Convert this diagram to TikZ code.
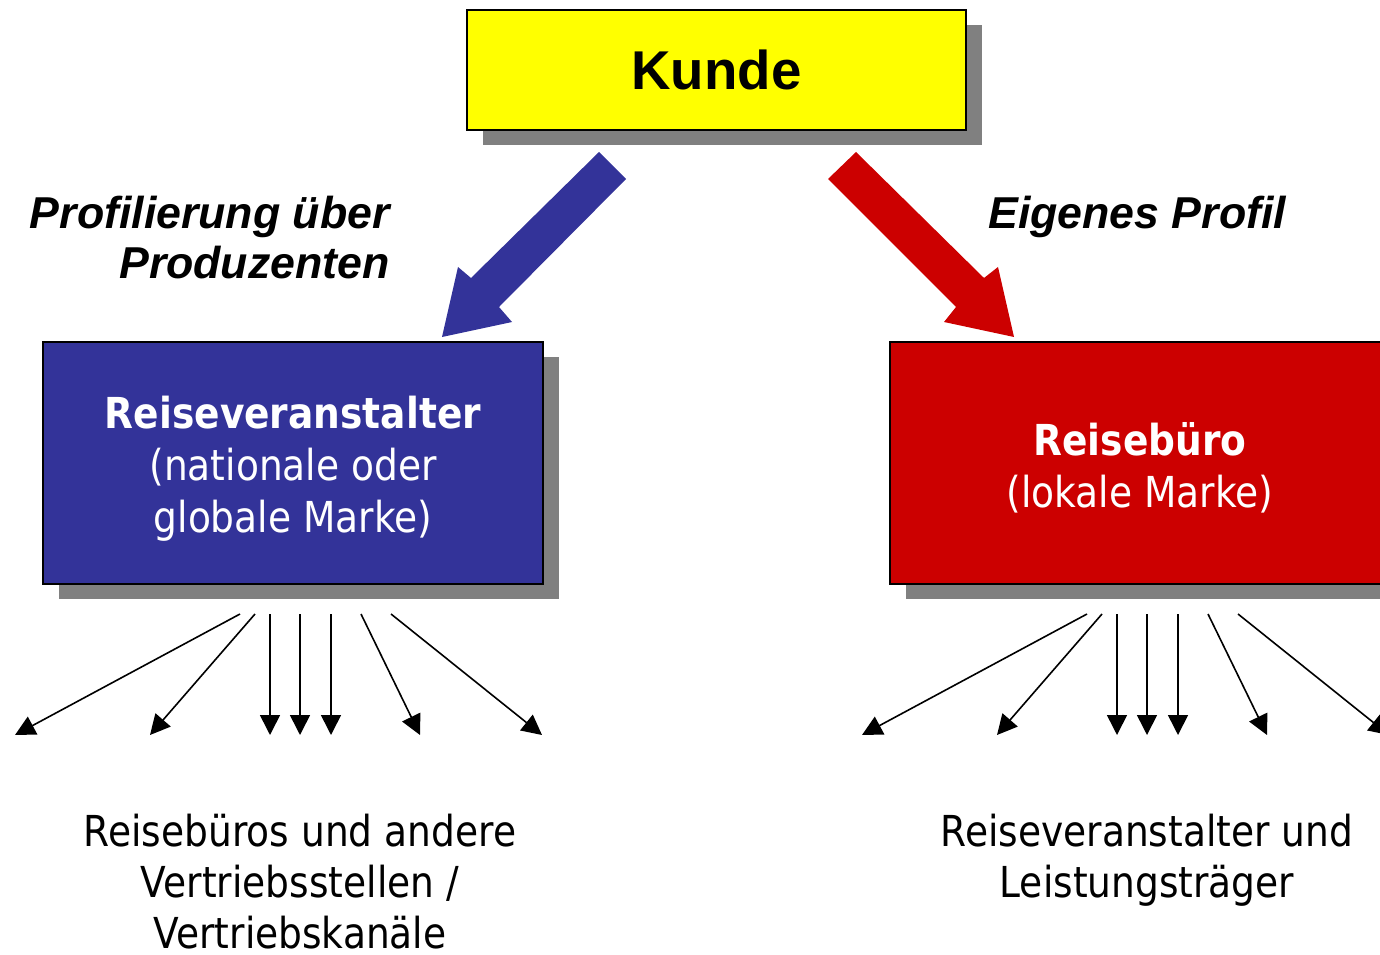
\documentclass[tikz,border=0pt]{standalone}
\usepackage{fontspec}
\setmainfont{DejaVu Sans}[FakeStretch=0.88]
\newfontfamily\arialfont{Liberation Sans}
\usepackage{tikz}
\usetikzlibrary{arrows.meta,positioning,shadows}

\definecolor{kundegelb}{HTML}{FFFF00}
\definecolor{veranstalterblau}{HTML}{333399}
\definecolor{bueroRot}{HTML}{CC0000}
\definecolor{schatten}{HTML}{808080}

\tikzset{
  schattig/.style={drop shadow={shadow xshift=12pt,shadow yshift=-11.25pt,fill=schatten,opacity=1}},
  kundebox/.style={draw=black,line width=1.5pt,fill=kundegelb,schattig,
    minimum width=374.25pt,minimum height=90pt,inner sep=0pt,
    font=\arialfont\bfseries\fontsize{41}{48}\selectfont},
  markebox/.style={draw=black,line width=1.5pt,schattig,
    minimum width=375pt,minimum height=181.5pt,inner sep=0pt},
  marketext/.style={inner sep=0pt,text=white,align=center,
    font=\fontsize{32}{39}\selectfont},
  profil/.style={inner sep=0pt,font=\arialfont\bfseries\itshape\fontsize{33.5}{37.5}\selectfont},
  kanal/.style={inner sep=0pt,align=center,font=\fontsize{32}{38.25}\selectfont},
  fan/.style={line width=1.2pt,-{Triangle[length=15pt,width=15pt]}}
}

\begin{document}
\begin{tikzpicture}[x=0.75pt,y=-0.75pt]
\useasboundingbox (0,0) rectangle (1380,955);
\clip (0,0) rectangle (1380,955);

% Boxes
\node[kundebox] (kunde) at (716.5,70) {Kunde};
\node[markebox,fill=veranstalterblau] (veranstalter) at (293,463) {};
\node[marketext] (veranstaltertext) at ([yshift=-4pt]veranstalter.center)
  {\textbf{Reiseveranstalter}\\(nationale oder\\globale Marke)};
\node[markebox,fill=bueroRot] (buero) at (1140,463) {};
\node[marketext] (buerotext) at ([yshift=-3.5pt]buero.center)
  {\textbf{Reisebüro}\\(lokale Marke)};

% Big arrows
\fill[veranstalterblau] (599,152) -- (626,179) -- (499,307) -- (512,322)
  -- (442,337) -- (458,267) -- (471,278) -- cycle;
\fill[bueroRot] (856,152) -- (828,179) -- (956,307) -- (944,322)
  -- (1014,337) -- (998,267) -- (984,278) -- cycle;

% Labels
\node[profil,anchor=north east,align=right] (produzenten) at (390,196)
  {Profilierung über\\Produzenten};
\node[profil,anchor=north west] (eigenprofil) at (988,196) {Eigenes Profil};

% Fan arrows
\foreach \s/\e [count=\i] in {240/15,255/150,270/270,300/300,331/331,361/420,391/542} {
  \coordinate (vs\i) at (\s,614);
  \coordinate (ve\i) at (\e,735);
  \draw[fan] (vs\i) -- (ve\i);
}
\foreach \s/\e [count=\i] in {1087/862,1102/997,1117/1117,1147/1147,1178/1178,1208/1267,1238/1389} {
  \coordinate (bs\i) at (\s,614);
  \coordinate (be\i) at (\e,735);
  \draw[fan] (bs\i) -- (be\i);
}

% Bottom texts
\node[kanal,anchor=north] (vertrieb) at (300,814)
  {Reisebüros und andere\\Vertriebsstellen /\\Vertriebskanäle};
\node[kanal,anchor=north] (leistung) at (1147,814)
  {Reiseveranstalter und\\Leistungsträger};
\end{tikzpicture}
\end{document}
